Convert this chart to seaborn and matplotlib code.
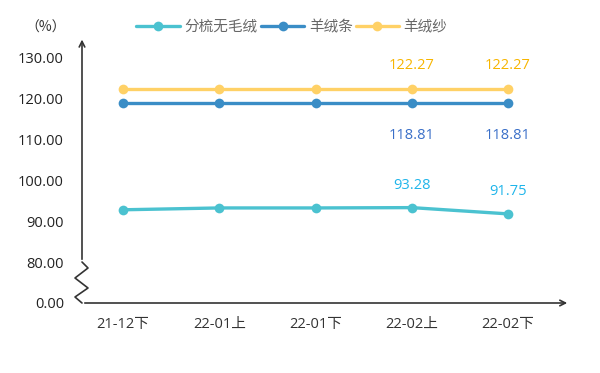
import pandas as pd
import numpy as np
import matplotlib
matplotlib.use('Agg')
import matplotlib.pyplot as plt
import seaborn as sns

categories = ['21-12下', '22-01上', '22-01下', '22-02上', '22-02下']
series_names = ['分梳无毛绒', '羊绒条', '羊绒纱']
fenshu = [92.75, 93.2, 93.2, 93.28, 91.75]
rongtiao = [118.81, 118.81, 118.81, 118.81, 118.81]
rongsha = [122.27, 122.27, 122.27, 122.27, 122.27]
ytick_vals = [70, 80, 90, 100, 110, 120, 130]
ytick_labels = ['0.00', '80.00', '90.00', '100.00', '110.00', '120.00', '130.00']

colors = ['#4BC2D0', '#3A8DC6', '#FFD166']
label_colors = ['#1FB5EA', '#3A6FC8', '#F7B500']

sns.set_style('white')
plt.rcParams['font.family'] = ['Open Sans', 'Noto Sans CJK SC', 'DejaVu Sans']

rows = []
for name, vals in zip(series_names, [fenshu, rongtiao, rongsha]):
    for i, v in enumerate(vals):
        rows.append({'pos': i, 'value': v, 'series': name})
df = pd.DataFrame(rows)

fig = plt.figure(figsize=(6, 3.73), dpi=100)
ax = fig.add_axes([82 / 600, 70 / 373, 488 / 600, 261 / 373])

sns.lineplot(data=df, x='pos', y='value', hue='series', hue_order=series_names,
             palette=colors, marker='o', markersize=7, markeredgewidth=0,
             linewidth=2.4, sort=False, ax=ax)

ax.set_xlim(-0.426, 4.644)
ax.set_ylim(70, 133.7)
for s in ax.spines.values():
    s.set_visible(False)
ax.set_xticks(range(len(categories)))
ax.set_xticklabels(categories, fontsize=10.5, color='#333333')
ax.set_yticks(ytick_vals)
ax.set_yticklabels(ytick_labels, fontsize=10.5, color='#222222')
ax.tick_params(axis='y', length=0, pad=13)
ax.tick_params(axis='x', length=0, pad=10)
ax.set_xlabel('')
ax.set_ylabel('')

# 坐标轴箭头
ax.annotate('', xy=(1.0, 0), xytext=(0, 0), xycoords='axes fraction',
            arrowprops=dict(arrowstyle='->', color='#333333', lw=1.2), annotation_clip=False)
y80 = (80 - 70) / (133.7 - 70)
ax.annotate('', xy=(0, 1.02), xytext=(0, y80), xycoords='axes fraction',
            arrowprops=dict(arrowstyle='->', color='#333333', lw=1.2), annotation_clip=False)
# 断轴锯齿
zx = np.array([0, 6, -7, 6, -7, 0]) / 488
zy = (303 - np.array([262, 268, 278, 288, 297, 303])) / 261
ax.plot(zx, zy, color='#333333', lw=1.2, transform=ax.transAxes, clip_on=False)

# 数据标签
for i in [3, 4]:
    ax.text(i, rongsha[i] + 5.8, f'{rongsha[i]:.2f}', color=label_colors[2],
            ha='center', va='center', fontsize=10.5)
    ax.text(i, rongtiao[i] - 8, f'{rongtiao[i]:.2f}', color=label_colors[1],
            ha='center', va='center', fontsize=10.5)
    ax.text(i, fenshu[i] + 5.5, f'{fenshu[i]:.2f}', color=label_colors[0],
            ha='center', va='center', fontsize=10.5)

fig.text(46 / 600, 1 - 28 / 373, '（%）', fontsize=10, color='#333333',
         ha='center', va='center', family=['Noto Sans CJK SC', 'DejaVu Sans'])

ax.legend(loc='center', bbox_to_anchor=(292 / 600, 1 - 28 / 373),
          bbox_transform=fig.transFigure, ncol=3, frameon=False,
          fontsize=10.5, labelcolor='#666666', handlelength=3.0,
          handletextpad=0.3, columnspacing=0.2)

fig.savefig('out.png', dpi=100, facecolor='white')
